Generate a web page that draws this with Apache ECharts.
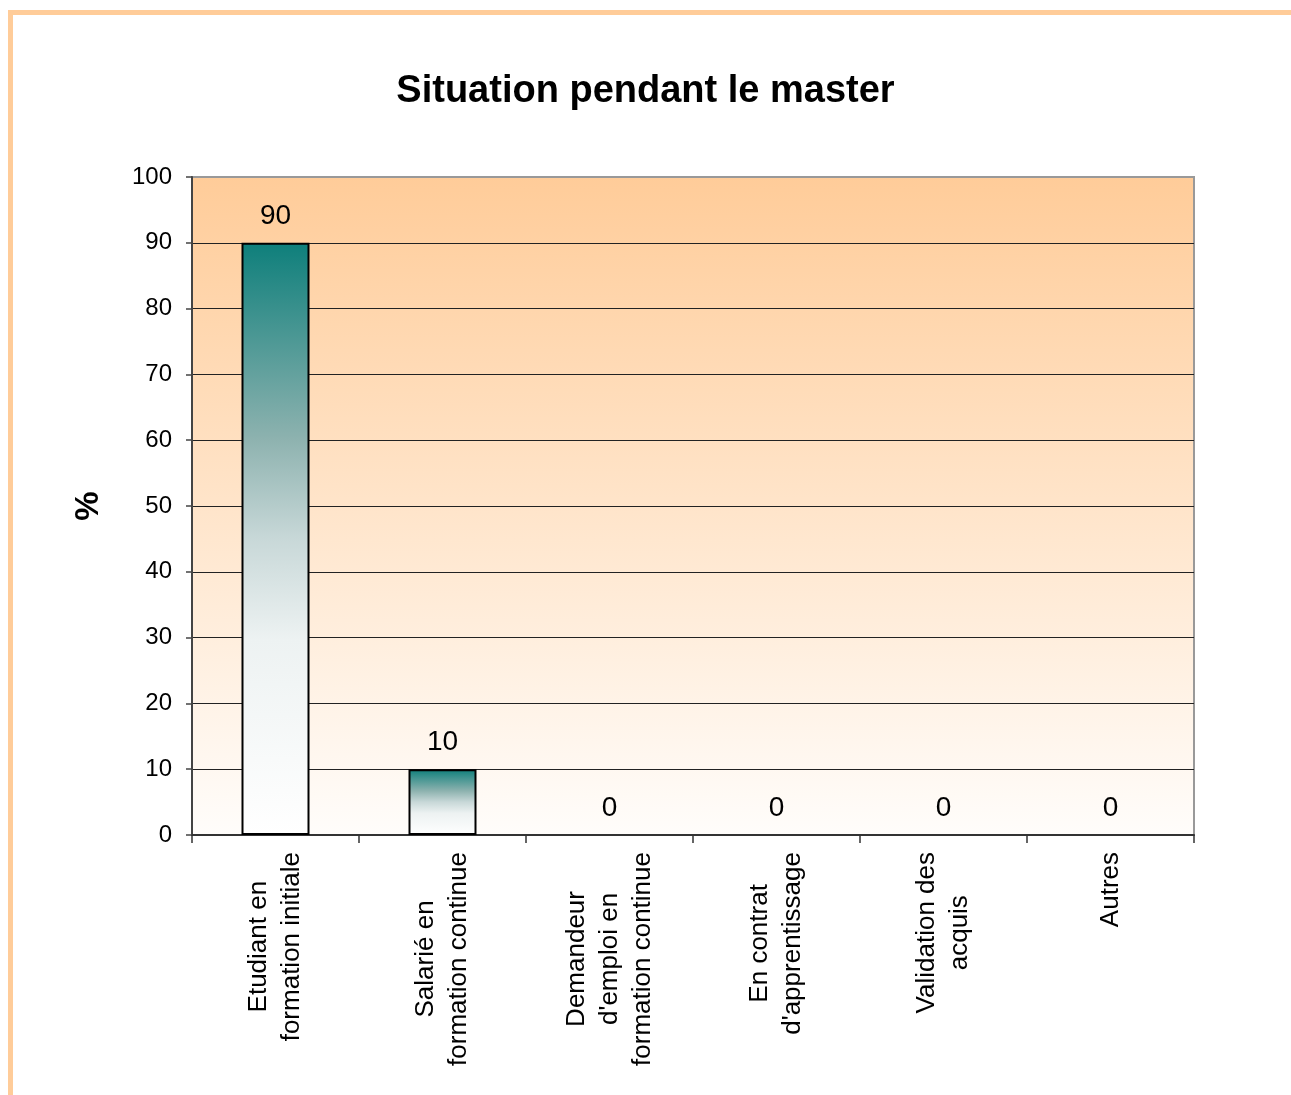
<!DOCTYPE html>
<html>
<head>
<meta charset="utf-8">
<script src="https://cdn.jsdelivr.net/npm/echarts@6/dist/echarts.min.js"></script>
<style>
  html, body { margin: 0; padding: 0; background: #ffffff; }
  #chart { width: 1291px; height: 1095px; }
</style>
</head>
<body>
<div id="chart"></div>
<script>
// Categories (line breaks as they appear under the axis)
const categories = [
  "Etudiant en\nformation initiale",
  "Salarié en\nformation continue",
  "Demandeur\nd'emploi en\nformation continue",
  "En contrat\nd'apprentissage",
  "Validation des\nacquis",
  "Autres"
];
// Share of students in each situation (%)
const values = [90, 10, 0, 0, 0, 0];
const yTicks = { min: 0, max: 100, interval: 10 };

const chart = echarts.init(document.getElementById('chart'), null, { renderer: 'canvas' });

const FONT = '"Liberation Sans", Arial, sans-serif';

// Empty bars keep their value label but draw no outline
const barData = values.map(v => v === 0
  ? { value: v, itemStyle: { borderWidth: 0, opacity: 0 } }
  : v);

chart.setOption({
  animation: false,
  backgroundColor: '#ffffff',
  title: {
    text: 'Situation pendant le master',
    left: 'center',
    top: 68,
    textStyle: { fontFamily: FONT, fontSize: 38, fontWeight: 'bold', color: '#000' }
  },
  graphic: [{
    type: 'rect',
    silent: true,
    shape: { x: 10.5, y: 12.5, width: 1400, height: 1200 },
    style: { fill: 'none', stroke: '#FFCC99', lineWidth: 5 }
  }],
  grid: {
    left: 192, right: 97, top: 177, bottom: 260,
    show: true,
    borderColor: '#999999',
    borderWidth: 2,
    backgroundColor: new echarts.graphic.LinearGradient(0, 0, 0, 1, [
      { offset: 0, color: '#FFCC99' },
      { offset: 1, color: '#FFFDFB' }
    ])
  },
  xAxis: {
    type: 'category',
    data: categories,
    axisLine: { show: true, lineStyle: { color: '#333', width: 2 } },
    axisTick: { show: true, alignWithLabel: false, length: 8, lineStyle: { color: '#333', width: 1.5 } },
    axisLabel: {
      interval: 0,
      rotate: 90,
      margin: 17,
      color: '#000',
      fontFamily: FONT,
      fontSize: 26,
      formatter: v => v.split('\n').map(s => '{c|' + s + '}').join('\n'),
      rich: {
        c: { align: 'center', fontFamily: FONT, fontSize: 26, lineHeight: 33, color: '#000' }
      }
    }
  },
  yAxis: {
    type: 'value',
    min: yTicks.min,
    max: yTicks.max,
    interval: yTicks.interval,
    name: '%',
    nameLocation: 'middle',
    nameRotate: 90,
    nameGap: 87,
    nameTextStyle: { fontFamily: FONT, fontSize: 33, fontWeight: 'bold', color: '#000' },
    axisLine: { show: true, lineStyle: { color: '#444', width: 2 } },
    axisTick: { show: true, length: 6, lineStyle: { color: '#444', width: 1.5 } },
    axisLabel: { margin: 20, color: '#000', fontFamily: FONT, fontSize: 24 },
    splitLine: { show: true, showMaxLine: false, lineStyle: { color: '#222', width: 1 } }
  },
  series: [{
    type: 'bar',
    data: barData,
    barWidth: 68,
    itemStyle: {
      color: new echarts.graphic.LinearGradient(0, 0, 0, 1, [
        { offset: 0, color: '#0E7F7B' },
        { offset: 0.33, color: '#8DB2AF' },
        { offset: 0.5, color: '#C8D8D8' },
        { offset: 0.67, color: '#EDF2F2' },
        { offset: 1, color: '#FFFFFF' }
      ]),
      borderColor: '#000',
      borderWidth: 2
    },
    label: {
      show: true,
      position: 'top',
      distance: 13,
      color: '#000',
      opacity: 1,
      fontFamily: FONT,
      fontSize: 28
    }
  }]
});
</script>
</body>
</html>
